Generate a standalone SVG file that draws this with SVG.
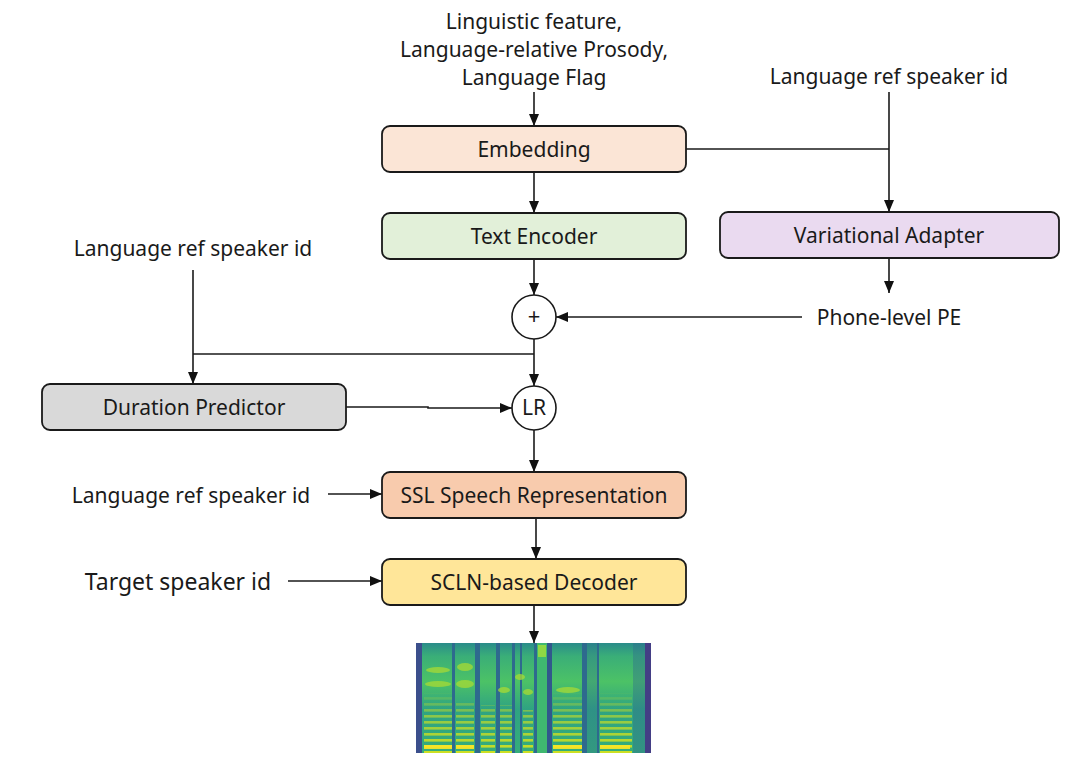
<svg xmlns="http://www.w3.org/2000/svg" width="1080" height="782" viewBox="0 0 1080 782">
<style>
.box{stroke:#1a1a1a;stroke-width:1.8}
.t{font-family:"Noto Sans","Open Sans","Liberation Sans",sans-serif;font-size:21px;fill:#1a1a1a;text-anchor:middle}
.ln{stroke:#1a1a1a;stroke-width:1.6;fill:none}
.arr{marker-end:url(#ah)}
.circ{fill:#fff;stroke:#1a1a1a;stroke-width:1.6}
</style>
<defs>
<marker id="ah" viewBox="0 0 12 10" refX="12" refY="5" markerWidth="12" markerHeight="10" markerUnits="userSpaceOnUse" orient="auto"><path d="M0,0 L12,5 L0,10 z" fill="#111"/></marker>
<linearGradient id="sg" x1="0" y1="0" x2="0" y2="1">
<stop offset="0" stop-color="#2A8C8A"/>
<stop offset="0.12" stop-color="#3AAE78"/>
<stop offset="0.35" stop-color="#4CC266"/>
<stop offset="0.6" stop-color="#2FA382"/>
<stop offset="1" stop-color="#35AD7A"/>
</linearGradient>
<linearGradient id="fade" x1="0" y1="0" x2="0" y2="1">
<stop offset="0" stop-color="#fff" stop-opacity="0"/>
<stop offset="0.4" stop-color="#fff" stop-opacity="0.55"/>
<stop offset="1" stop-color="#fff" stop-opacity="0.95"/>
</linearGradient>
<pattern id="harm" width="30" height="6" patternUnits="userSpaceOnUse" y="1"><rect width="30" height="2.6" fill="#D6E21E"/></pattern>
<mask id="hm"><rect x="416" y="690" width="236" height="63" fill="url(#fade)"/></mask>
</defs>

<g id="connectors">
<line class="ln arr" x1="534" y1="92" x2="534" y2="126"/>
<line class="ln arr" x1="534" y1="172" x2="534" y2="213"/>
<polyline class="ln" points="686,149 889,149"/>
<line class="ln arr" x1="889" y1="92" x2="889" y2="212"/>
<line class="ln arr" x1="534" y1="259" x2="534" y2="295"/>
<line class="ln arr" x1="889" y1="258" x2="889" y2="293"/>
<line class="ln arr" x1="802" y1="317" x2="556" y2="317"/>
<line class="ln arr" x1="534" y1="339" x2="534" y2="386"/>
<polyline class="ln" points="534,354 193,354"/>
<line class="ln arr" x1="193" y1="270" x2="193" y2="384"/>
<polyline class="ln arr" points="346,407 428,407 428,408 512,408"/>
<line class="ln arr" x1="534" y1="430" x2="534" y2="472"/>
<line class="ln arr" x1="328" y1="494" x2="382" y2="494"/>
<line class="ln arr" x1="536" y1="518" x2="536" y2="559"/>
<line class="ln arr" x1="288" y1="581" x2="382" y2="581"/>
<line class="ln arr" x1="534" y1="605" x2="534" y2="643"/>
</g>

<g id="inputs">
<text class="t" x="534" y="29">Linguistic feature,</text>
<text class="t" x="534" y="57">Language-relative Prosody,</text>
<text class="t" x="534" y="85">Language Flag</text>
<text class="t" x="889" y="84">Language ref speaker id</text>
<text class="t" x="193" y="256">Language ref speaker id</text>
<text class="t" x="889" y="325">Phone-level PE</text>
<text class="t" x="191" y="503">Language ref speaker id</text>
<text class="t" x="178" y="590" style="font-size:23px">Target speaker id</text>
</g>

<g id="embedding">
<rect class="box" x="382" y="126" width="304" height="46" rx="8" fill="#FBE5D6"/>
<text class="t" x="534" y="157">Embedding</text>
</g>
<g id="text-encoder">
<rect class="box" x="382" y="213" width="304" height="46" rx="8" fill="#E2F0D9"/>
<text class="t" x="534" y="244">Text Encoder</text>
</g>
<g id="variational-adapter">
<rect class="box" x="720" y="212" width="339" height="46" rx="8" fill="#EADAF0"/>
<text class="t" x="889" y="243">Variational Adapter</text>
</g>
<g id="plus">
<circle class="circ" cx="534" cy="317" r="22"/>
<text class="t" x="534" y="324" style="font-size:22px">+</text>
</g>
<g id="lr">
<circle class="circ" cx="534" cy="408" r="22"/>
<text class="t" x="534" y="415">LR</text>
</g>
<g id="duration-predictor">
<rect class="box" x="42" y="384" width="304" height="46" rx="8" fill="#D9D9D9"/>
<text class="t" x="194" y="415">Duration Predictor</text>
</g>
<g id="ssl">
<rect class="box" x="382" y="472" width="304" height="46" rx="8" fill="#F8CBAD"/>
<text class="t" x="534" y="503">SSL Speech Representation</text>
</g>
<g id="decoder">
<rect class="box" x="382" y="559" width="304" height="46" rx="8" fill="#FFE699"/>
<text class="t" x="534" y="590">SCLN-based Decoder</text>
</g>

<g id="spectrogram">
<rect x="416" y="643" width="235" height="110" fill="#2E6A8E"/>
<rect x="416" y="643" width="6" height="110" fill="#3B4F8C"/>
<rect x="645" y="643" width="6" height="110" fill="#433E85"/>
<g fill="url(#sg)">
<rect x="422" y="643" width="30" height="110"/>
<rect x="455" y="643" width="20" height="110"/>
<rect x="480" y="643" width="16" height="110"/>
<rect x="500" y="643" width="12" height="110"/>
<rect x="515" y="643" width="5" height="110"/>
<rect x="522" y="643" width="12" height="110"/>
<rect x="552" y="643" width="30" height="110"/>
<rect x="587" y="643" width="10" height="110" opacity="0.7"/>
<rect x="599" y="643" width="34" height="110"/>
<rect x="633" y="643" width="12" height="110" opacity="0.6"/>
</g>
<rect x="537" y="643" width="10" height="110" fill="#3FB870"/>
<rect x="538" y="645" width="8" height="12" fill="#8FD744"/>
<rect x="547" y="643" width="5" height="110" fill="#31588C"/>
<g fill="#A8DB34" opacity="0.75">
<ellipse cx="438" cy="670" rx="12" ry="3"/>
<ellipse cx="438" cy="684" rx="13" ry="3"/>
<ellipse cx="465" cy="667" rx="8" ry="4"/>
<ellipse cx="465" cy="684" rx="9" ry="4"/>
<ellipse cx="504" cy="690" rx="6" ry="3"/>
<ellipse cx="528" cy="692" rx="5" ry="3"/>
<ellipse cx="568" cy="690" rx="12" ry="3"/>
<ellipse cx="520" cy="677" rx="5" ry="3"/>
</g>
<g fill="url(#harm)" mask="url(#hm)">
<rect x="424" y="693" width="28" height="60"/>
<rect x="456" y="700" width="18" height="53"/>
<rect x="481" y="705" width="14" height="48"/>
<rect x="500" y="705" width="12" height="48"/>
<rect x="523" y="710" width="10" height="43"/>
<rect x="553" y="693" width="29" height="60"/>
<rect x="600" y="693" width="32" height="60"/>
</g>
<g fill="#FDE725" opacity="0.9">
<rect x="424" y="745" width="28" height="4"/>
<rect x="456" y="745" width="18" height="4"/>
<rect x="553" y="745" width="29" height="4"/>
<rect x="600" y="745" width="30" height="4"/>
</g>
</g>
</svg>
